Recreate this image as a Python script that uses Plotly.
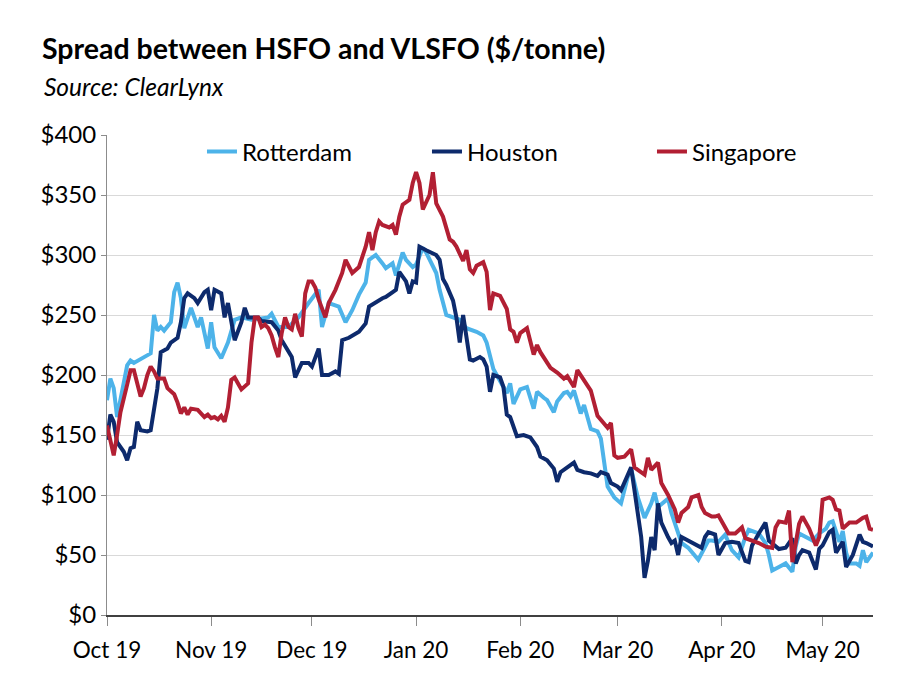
import plotly.graph_objects as go

# ---------------- data ----------------
rot_dates = ["2019-10-01","2019-10-02","2019-10-03","2019-10-04","2019-10-07","2019-10-08","2019-10-09","2019-10-12",
             "2019-10-14","2019-10-15","2019-10-16","2019-10-17","2019-10-18","2019-10-20","2019-10-21","2019-10-22",
             "2019-10-23","2019-10-24","2019-10-25","2019-10-26","2019-10-27","2019-10-28","2019-10-29","2019-10-30",
             "2019-10-31","2019-11-01","2019-11-02","2019-11-04","2019-11-06","2019-11-08","2019-11-10","2019-11-13",
             "2019-11-18","2019-11-19","2019-11-21","2019-11-24","2019-11-27","2019-11-30","2019-12-03","2019-12-04",
             "2019-12-06","2019-12-09","2019-12-11","2019-12-13","2019-12-15","2019-12-17","2019-12-18","2019-12-19",
             "2019-12-20","2019-12-22","2019-12-23","2019-12-25","2019-12-26","2019-12-28","2019-12-29","2019-12-31",
             "2020-01-01","2020-01-03","2020-01-04","2020-01-07","2020-01-08","2020-01-10","2020-01-12","2020-01-14",
             "2020-01-16","2020-01-19","2020-01-21","2020-01-22","2020-01-24","2020-01-25","2020-01-26","2020-01-28",
             "2020-01-29","2020-01-30","2020-02-01","2020-02-03","2020-02-05","2020-02-06","2020-02-08","2020-02-09",
             "2020-02-11","2020-02-12","2020-02-14","2020-02-15","2020-02-16","2020-02-17","2020-02-19","2020-02-20",
             "2020-02-22","2020-02-24","2020-02-25","2020-02-27","2020-02-29","2020-03-02","2020-03-04","2020-03-05",
             "2020-03-07","2020-03-09","2020-03-11","2020-03-12","2020-03-13","2020-03-15","2020-03-16","2020-03-17",
             "2020-03-19","2020-03-20","2020-03-22","2020-03-25","2020-03-28","2020-03-29","2020-03-31","2020-04-02",
             "2020-04-04","2020-04-06","2020-04-08","2020-04-09","2020-04-12","2020-04-14","2020-04-15","2020-04-16",
             "2020-04-18","2020-04-20","2020-04-22","2020-04-23","2020-04-24","2020-04-26","2020-04-28","2020-04-30",
             "2020-05-02","2020-05-03","2020-05-04","2020-05-06","2020-05-07","2020-05-08","2020-05-09","2020-05-11",
             "2020-05-12","2020-05-13","2020-05-14","2020-05-16"]
rot_vals = [179,197,189,165,208,212,210,215,
            218,250,237,240,237,244,269,277,
            264,239,248,256,248,240,248,236,
            222,244,223,214,227,246,248,246,
            248,251,240,240,248,260,271,240,
            260,257,244,254,267,277,296,298,
            300,293,289,293,283,302,296,290,
            292,306,302,285,271,250,248,246,
            239,236,233,227,205,200,196,185,
            193,176,188,190,172,186,181,179,
            169,178,185,186,182,187,168,175,
            155,153,147,107,98,93,115,122,
            98,81,93,102,90,94,97,85,
            68,60,56,46,62,62,61,67,
            54,48,65,71,68,60,50,37,
            40,43,36,57,68,65,62,68,
            72,77,78,61,70,52,43,43,
            41,54,44,52]

hou_dates = ["2019-10-01","2019-10-02","2019-10-03","2019-10-04","2019-10-06","2019-10-07","2019-10-08","2019-10-09",
             "2019-10-10","2019-10-11","2019-10-13","2019-10-14","2019-10-16","2019-10-17","2019-10-19","2019-10-20",
             "2019-10-22","2019-10-23","2019-10-24","2019-10-25","2019-10-27","2019-10-28","2019-10-30","2019-10-31",
             "2019-11-01","2019-11-02","2019-11-04","2019-11-05","2019-11-06","2019-11-08","2019-11-10","2019-11-11",
             "2019-11-12","2019-11-15","2019-11-16","2019-11-18","2019-11-19","2019-11-21","2019-11-22","2019-11-25",
             "2019-11-26","2019-11-28","2019-11-30","2019-12-01","2019-12-03","2019-12-04","2019-12-06","2019-12-08",
             "2019-12-09","2019-12-10","2019-12-12","2019-12-15","2019-12-17","2019-12-18","2019-12-20","2019-12-22",
             "2019-12-23","2019-12-25","2019-12-26","2019-12-27","2019-12-29","2019-12-30","2019-12-31","2020-01-01",
             "2020-01-02","2020-01-04","2020-01-07","2020-01-08","2020-01-09","2020-01-10","2020-01-12","2020-01-13",
             "2020-01-14","2020-01-15","2020-01-16","2020-01-17","2020-01-18","2020-01-20","2020-01-21","2020-01-22",
             "2020-01-23","2020-01-24","2020-01-26","2020-01-27","2020-01-28","2020-01-29","2020-01-31","2020-02-02",
             "2020-02-04","2020-02-06","2020-02-07","2020-02-09","2020-02-11","2020-02-12","2020-02-13","2020-02-15",
             "2020-02-17","2020-02-18","2020-02-20","2020-02-22","2020-02-24","2020-02-25","2020-02-27","2020-02-28",
             "2020-03-01","2020-03-02","2020-03-04","2020-03-05","2020-03-06","2020-03-08","2020-03-09","2020-03-10",
             "2020-03-11","2020-03-12","2020-03-13","2020-03-14","2020-03-16","2020-03-17","2020-03-18","2020-03-19",
             "2020-03-20","2020-03-22","2020-03-25","2020-03-26","2020-03-27","2020-03-28","2020-03-30","2020-03-31",
             "2020-04-02","2020-04-04","2020-04-06","2020-04-08","2020-04-09","2020-04-10","2020-04-12","2020-04-14",
             "2020-04-15","2020-04-18","2020-04-20","2020-04-22","2020-04-23","2020-04-24","2020-04-25","2020-04-27",
             "2020-04-29","2020-04-30","2020-05-01","2020-05-03","2020-05-04","2020-05-05","2020-05-07","2020-05-08",
             "2020-05-10","2020-05-12","2020-05-13","2020-05-14","2020-05-16"]
hou_vals = [146,167,161,144,136,129,139,140,
            161,154,153,154,189,219,222,227,
            231,244,264,268,264,260,269,271,
            254,271,268,248,260,229,244,256,
            248,248,245,244,244,237,229,215,
            198,210,210,207,222,200,200,203,
            201,229,231,236,243,257,261,264,
            265,269,271,286,278,268,278,277,
            307,304,300,296,280,275,262,248,
            227,250,231,213,212,215,213,207,
            186,200,198,190,167,165,149,150,
            148,140,132,129,122,111,119,123,
            127,121,119,118,116,119,117,110,
            107,104,118,123,104,65,31,45,
            65,54,93,77,65,60,62,50,
            65,62,57,56,65,69,67,50,
            60,61,60,45,44,58,68,77,
            62,55,56,64,43,50,54,52,
            38,55,58,69,71,52,61,40,
            50,67,61,60,57]

sin_dates = ["2019-10-01","2019-10-02","2019-10-03","2019-10-04","2019-10-05","2019-10-07","2019-10-08","2019-10-09",
             "2019-10-10","2019-10-11","2019-10-12","2019-10-13","2019-10-14","2019-10-15","2019-10-16","2019-10-18",
             "2019-10-19","2019-10-20","2019-10-21","2019-10-22","2019-10-23","2019-10-24","2019-10-25","2019-10-26",
             "2019-10-28","2019-10-30","2019-10-31","2019-11-01","2019-11-02","2019-11-03","2019-11-04","2019-11-05",
             "2019-11-06","2019-11-07","2019-11-08","2019-11-09","2019-11-10","2019-11-12","2019-11-13","2019-11-14",
             "2019-11-15","2019-11-16","2019-11-17","2019-11-18","2019-11-19","2019-11-20","2019-11-21","2019-11-22",
             "2019-11-23","2019-11-24","2019-11-25","2019-11-26","2019-11-27","2019-11-28","2019-11-29","2019-11-30",
             "2019-12-01","2019-12-02","2019-12-03","2019-12-05","2019-12-06","2019-12-08","2019-12-10","2019-12-11",
             "2019-12-13","2019-12-15","2019-12-17","2019-12-18","2019-12-19","2019-12-20","2019-12-21","2019-12-22",
             "2019-12-24","2019-12-25","2019-12-26","2019-12-27","2019-12-28","2019-12-30","2019-12-31","2020-01-01",
             "2020-01-02","2020-01-03","2020-01-05","2020-01-06","2020-01-07","2020-01-09","2020-01-10","2020-01-11",
             "2020-01-12","2020-01-13","2020-01-15","2020-01-16","2020-01-17","2020-01-18","2020-01-19","2020-01-21",
             "2020-01-22","2020-01-23","2020-01-24","2020-01-26","2020-01-28","2020-01-29","2020-01-30","2020-01-31",
             "2020-02-01","2020-02-03","2020-02-05","2020-02-06","2020-02-07","2020-02-10","2020-02-12","2020-02-14",
             "2020-02-15","2020-02-17","2020-02-18","2020-02-20","2020-02-22","2020-02-24","2020-02-25","2020-02-27",
             "2020-02-28","2020-02-29","2020-03-01","2020-03-03","2020-03-05","2020-03-06","2020-03-07","2020-03-09",
             "2020-03-10","2020-03-11","2020-03-13","2020-03-14","2020-03-16","2020-03-17","2020-03-18","2020-03-19",
             "2020-03-20","2020-03-22","2020-03-23","2020-03-25","2020-03-26","2020-03-27","2020-03-29","2020-03-30",
             "2020-03-31","2020-04-01","2020-04-03","2020-04-05","2020-04-07","2020-04-08","2020-04-10","2020-04-12",
             "2020-04-14","2020-04-16","2020-04-17","2020-04-18","2020-04-20","2020-04-21","2020-04-22","2020-04-24",
             "2020-04-25","2020-04-27","2020-04-29","2020-04-30","2020-05-01","2020-05-03","2020-05-04","2020-05-05",
             "2020-05-06","2020-05-07","2020-05-09","2020-05-11","2020-05-13","2020-05-14","2020-05-15","2020-05-16"]
sin_vals = [158,146,133,150,169,192,204,204,
            192,182,189,200,207,203,197,197,
            189,186,184,177,168,173,167,172,
            171,165,167,164,165,163,166,161,
            173,196,198,193,188,193,227,248,
            248,240,242,239,233,223,215,235,
            248,240,238,251,239,232,268,278,
            278,273,263,248,260,271,285,296,
            285,290,307,319,304,319,328,325,
            323,325,317,332,342,346,360,369,
            360,338,350,369,343,332,323,313,
            311,307,295,304,288,285,291,294,
            286,254,268,266,255,238,236,227,
            235,239,217,225,219,206,202,197,
            199,190,204,196,187,166,163,156,
            160,133,131,132,138,123,121,117,
            131,121,127,110,100,94,88,77,
            85,90,98,100,90,85,82,82,
            83,78,68,68,73,64,62,60,
            57,56,73,78,77,87,44,76,
            82,72,58,65,96,98,96,88,
            87,72,77,77,81,82,72,71]

series_names = ["Rotterdam", "Houston", "Singapore"]
series_colors = ["#4DB3E9", "#0D2A6C", "#B21F33"]

tick_dates = ["2019-10-01","2019-11-01","2019-12-01","2020-01-01","2020-02-01","2020-03-01","2020-04-01","2020-05-01"]
tick_labels = ["Oct 19","Nov 19","Dec 19","Jan 20","Feb 20","Mar 20","Apr 20","May 20"]
y_ticks = [0, 50, 100, 150, 200, 250, 300, 350, 400]

# ---------------- figure ----------------
FONT = "Lato"
fig = go.Figure()
for name, color, xs, ys in zip(series_names, series_colors,
                               [rot_dates, hou_dates, sin_dates],
                               [rot_vals, hou_vals, sin_vals]):
    fig.add_trace(go.Scatter(x=xs, y=ys, mode="lines", name=name,
                             line=dict(color=color, width=4)))

fig.update_layout(
    width=900, height=700,
    margin=dict(l=107, r=27, t=135, b=85),
    paper_bgcolor="white", plot_bgcolor="white",
    font=dict(family=FONT, size=22, color="#000000"),
    title=dict(text="<b>Spread between HSFO and VLSFO ($/tonne)</b>",
               x=42/900, xanchor="left", xref="container",
               y=1-49/700, yanchor="middle", yref="container",
               font=dict(family=FONT, size=28.5, color="#000000")),
    showlegend=True,
    legend=dict(orientation="h", x=0.124, xanchor="left", y=0.965, yanchor="middle",
                font=dict(family=FONT, size=24, color="#000000"),
                bgcolor="rgba(0,0,0,0)", entrywidth=180, entrywidthmode="pixels"),
    annotations=[dict(text="<i>Source: ClearLynx</i>", xref="paper", yref="paper",
                      x=-65/766, y=1+(135-86)/480, xanchor="left", yanchor="middle",
                      showarrow=False, font=dict(family=FONT, size=24.5, color="#000000"))],
)

fig.update_xaxes(
    type="date", range=["2019-10-01", "2020-05-16"],
    tickmode="array", tickvals=tick_dates, ticktext=tick_labels,
    tickfont=dict(family=FONT, size=22.5, color="#000000"),
    showgrid=False, showline=True, linecolor="#404040", linewidth=1.5,
    ticks="outside", ticklen=9, tickcolor="#8C8C8C", tickwidth=1,
    ticklabelstandoff=5, zeroline=False,
)
fig.update_yaxes(
    range=[0, 400], tickmode="array", tickvals=y_ticks,
    ticktext=["$" + str(v) for v in y_ticks],
    tickfont=dict(family=FONT, size=24, color="#000000"),
    showgrid=True, gridcolor="#D9D9D9", gridwidth=1.3,
    showline=True, linecolor="#8C8C8C", linewidth=1,
    ticks="outside", ticklen=5, tickcolor="#8C8C8C",
    zeroline=False,
)

fig.write_html("out.html")
